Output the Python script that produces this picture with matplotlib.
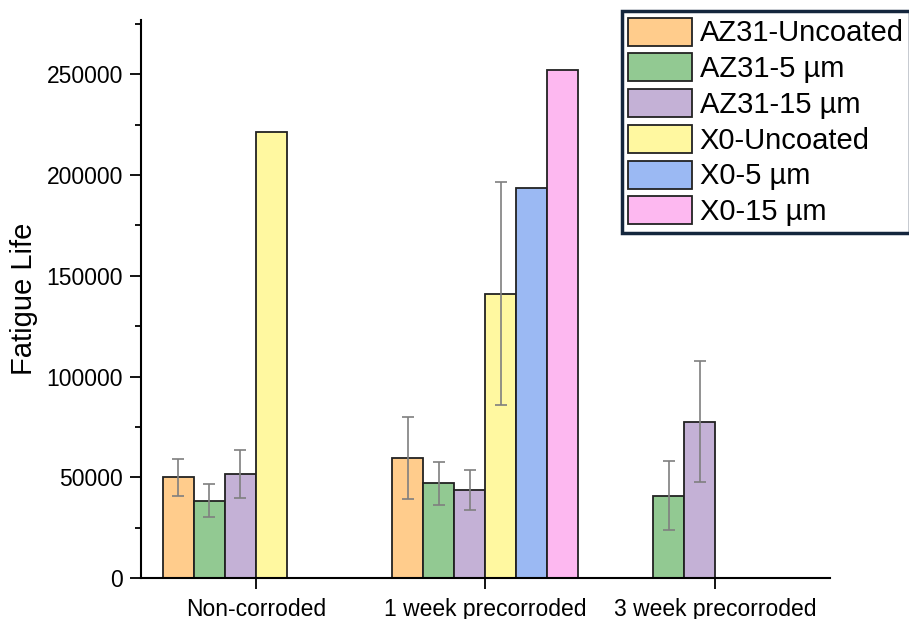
import numpy as np
import matplotlib.pyplot as plt

plt.rcParams['font.family'] = ['Liberation Sans', 'DejaVu Sans']

categories = ['Non-corroded', '1 week precorroded', '3 week precorroded']
series = ['AZ31-Uncoated', 'AZ31-5 µm', 'AZ31-15 µm', 'X0-Uncoated', 'X0-5 µm', 'X0-15 µm']
colors = ['#FFCC8C', '#92C992', '#C4B1D6', '#FFF8A0', '#9BB9F3', '#FDB8F0']

# mean fatigue life (nan = not tested)
az31_uncoated = [50000, 59500, np.nan]
az31_5um = [38500, 47000, 41000]
az31_15um = [51700, 43700, 77700]
x0_uncoated = [221500, 141000, np.nan]
x0_5um = [np.nan, 193500, np.nan]
x0_15um = [np.nan, 252000, np.nan]

# error bar half-widths
az31_uncoated_err = [9000, 20200, np.nan]
az31_5um_err = [8000, 10500, 17000]
az31_15um_err = [12000, 10000, 30000]
x0_uncoated_err = [np.nan, 55300, np.nan]
x0_5um_err = [np.nan, np.nan, np.nan]
x0_15um_err = [np.nan, np.nan, np.nan]

values = [az31_uncoated, az31_5um, az31_15um, x0_uncoated, x0_5um, x0_15um]
errors = [az31_uncoated_err, az31_5um_err, az31_15um_err,
          x0_uncoated_err, x0_5um_err, x0_15um_err]

fig = plt.figure(figsize=(9.09, 6.19), dpi=100)
ax = fig.add_axes([0.155, 0.066, 0.758, 0.902])

x = np.arange(len(categories))
w = 0.135
for i, (name, vals, errs, c) in enumerate(zip(series, values, errors, colors)):
    pos = x + (i - 2.5) * w
    ax.bar(pos, vals, width=w, color=c, edgecolor='#222222', linewidth=1.3, label=name)
    ax.errorbar(pos, vals, yerr=errs, fmt='none', ecolor='#7f7f7f',
                elinewidth=1.2, capsize=4, capthick=1.2)

ax.set_xlim(-0.5, 2.5)
ax.set_ylim(0, 277000)
ax.set_yticks(np.arange(0, 250001, 50000))
ax.set_yticks(np.arange(25000, 275001, 50000), minor=True)
ax.set_xticks(x)
ax.set_xticklabels(categories, fontsize=16.5)
ax.tick_params(axis='y', labelsize=16.5, direction='out', length=8, width=1.3, pad=5)
ax.tick_params(axis='y', which='minor', length=4, width=1.3)
ax.tick_params(axis='x', direction='out', length=8, width=1.3, pad=6)
ax.set_ylabel('Fatigue Life', fontsize=21, labelpad=6)
for s in ['top', 'right']:
    ax.spines[s].set_visible(False)
for s in ['left', 'bottom']:
    ax.spines[s].set_linewidth(1.5)

leg = fig.legend(loc='upper left', bbox_to_anchor=(0.684, 0.982), fontsize=21,
                 handlelength=2.2, handleheight=1.1, labelspacing=0.2,
                 handletextpad=0.25, borderpad=0.22, borderaxespad=0,
                 fancybox=False, framealpha=1)
leg.get_frame().set_edgecolor('#14263d')
leg.get_frame().set_linewidth(2.5)

fig.savefig('out.png', dpi=100)
